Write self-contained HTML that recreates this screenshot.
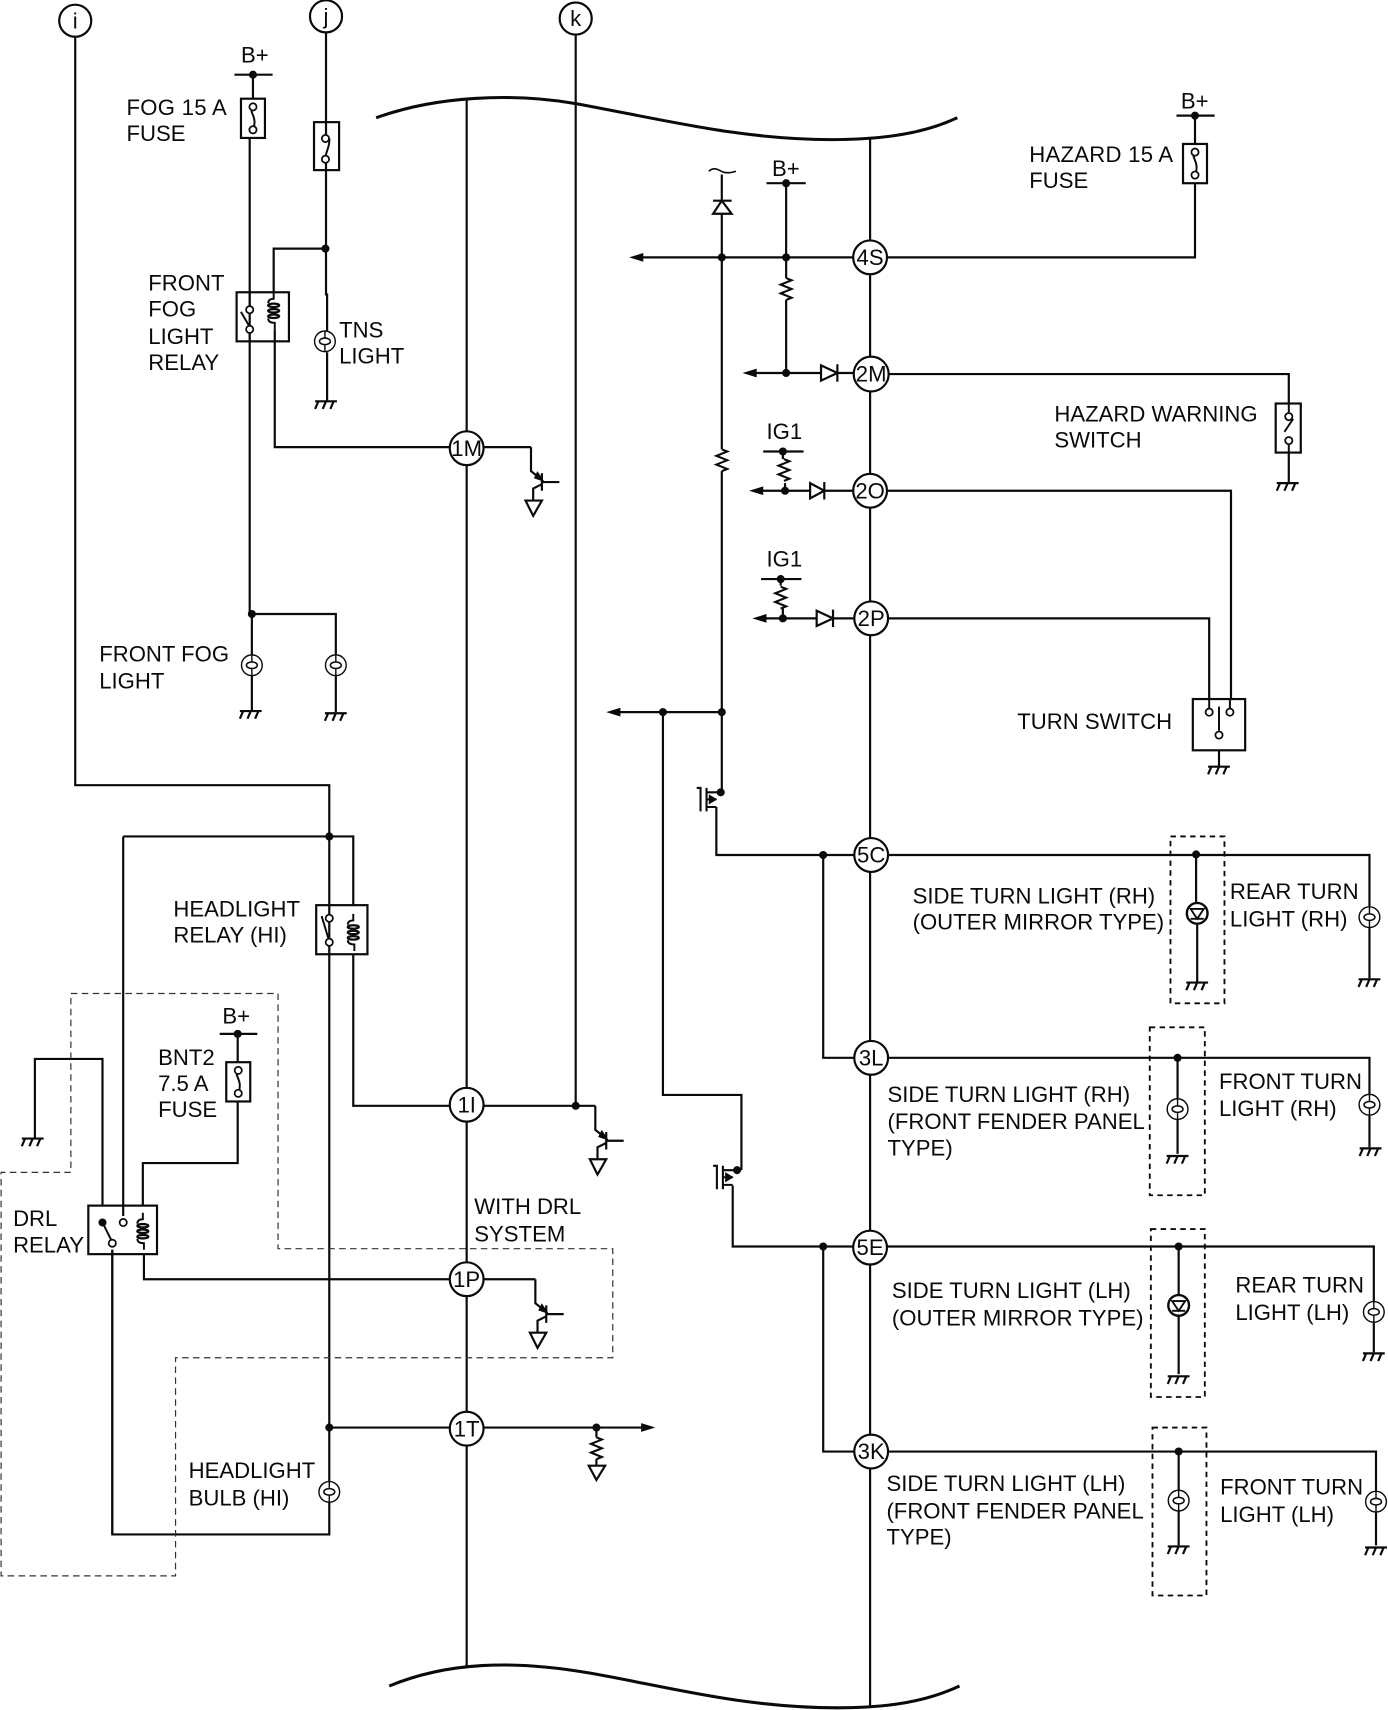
<!DOCTYPE html>
<html><head><meta charset="utf-8"><style>
html,body{margin:0;padding:0;background:#fff;width:1388px;height:1710px;overflow:hidden}
svg{display:block}
text{font-family:"Liberation Sans",sans-serif;font-size:20.3px;fill:#0a0a0a}
</style></head><body>
<svg width="1388" height="1710" viewBox="0 0 1273 1568" preserveAspectRatio="none" xmlns="http://www.w3.org/2000/svg">
<defs>
<g id="gnd" fill="none" stroke="#0a0a0a" stroke-width="2"><path d="M-10 0H10M-7 0L-10 7M0 0L-3 7M7 0L4 7"/></g>
<g id="lamp"><circle r="9.5" fill="#fff" stroke="#0a0a0a" stroke-width="1.3"/><ellipse rx="5" ry="3" fill="none" stroke="#0a0a0a" stroke-width="1.4"/><path d="M0 -9.5V-3M0 3V9.5" stroke="#0a0a0a" stroke-width="1.3" fill="none"/></g>
<g id="led"><circle r="9.5" fill="#fff" stroke="#0a0a0a" stroke-width="2.200"/><path d="M-6 -4H6L0 5ZM-6 5H6" fill="#fff" stroke="#0a0a0a" stroke-width="1.7"/></g>
<g id="fuse"><rect x="-11" y="0" width="22" height="36" fill="#fff" stroke="#0a0a0a" stroke-width="2"/><path d="M0 7C-5 13 5 15 0 29" fill="none" stroke="#0a0a0a" stroke-width="1.8"/><circle cy="7.5" r="3.3" fill="#fff" stroke="#0a0a0a" stroke-width="1.6"/><circle cy="28.5" r="3.3" fill="#fff" stroke="#0a0a0a" stroke-width="1.6"/></g>
<g id="res" fill="none" stroke="#0a0a0a" stroke-width="1.9"><path d="M0 0L5 2L-5 6L5 10L-5 14L5 18L0 20"/></g>
<g id="trans" fill="none" stroke="#0a0a0a" stroke-width="2"><path d="M0 0V22L10 30M10 24V40M10 32H26M10 34L2 38V49"/><path d="M-5 49H10L2 63Z" fill="#fff"/><path d="M10 30L4 28L6 24Z" fill="#0a0a0a"/></g>
<g id="coil" fill="none" stroke="#0a0a0a" stroke-width="1.8"><path d="M0 0V6Q-5 6 -5 10"/><ellipse cx="0" cy="12" rx="5" ry="1.6" stroke-width="2.100"/><ellipse cx="0" cy="17" rx="5" ry="1.6" stroke-width="2.100"/><ellipse cx="0" cy="22" rx="5" ry="1.6" stroke-width="2.100"/><path d="M-5 24Q-5 28 1 28V34"/></g>
<g id="mos" fill="none" stroke="#0a0a0a" stroke-width="1.9"><path d="M-22 -4H-18.500V17.500M-13 -4V17.500M-13 0H0M-13 6.500H-4M-13 13.500H-4"/><path d="M-5 6.500L-10 3.500V9.500Z" fill="#0a0a0a"/></g>
<path id="al" d="M0 0L13 -4V4Z" fill="#0a0a0a"/>
</defs>

<g fill="none" stroke="#0a0a0a" stroke-width="2">
<!-- buses & curves -->
<path d="M428 90V1529M798 127V1566"/>
<path d="M345 108C400 88 470 85 528 95C610 110 680 128 762 128C812 128 848 122 878 108" stroke-width="2.800"/>
<path d="M357 1546C410 1524 470 1522 540 1534C610 1546 680 1566 768 1566C816 1566 850 1560 880 1546" stroke-width="2.800"/>
<!-- i -->
<path d="M69 34V720H302V1407H103V1146"/>
<!-- j -->
<path d="M299 30V228M299 228V270H300V303M300 323V368M299 228H251V268"/>
<!-- fog -->
<path d="M232 68V90M229 127V563M231 563V601M231 620V652M231 563H308V601M308 620V653"/>
<path d="M252 302V410H414"/>
<path d="M443 410H487"/>
<!-- k -->
<path d="M528 32V1014"/>
<!-- headlight -->
<path d="M113 767H324V830M324 875V1014H414M443 1014H546"/>
<path d="M113 767V1115"/>
<path d="M94 1105V971H32V1044"/>
<path d="M218 948V974M218 1010V1066.500H131V1105"/>
<path d="M132 1150V1173H414M443 1173H491"/>
<path d="M103 1146V1407"/>
<path d="M302 1309H414M443 1309H590M547 1309V1318M547 1338V1344"/>
<!-- right -->
<path d="M1096 106V132M1096 168V236H813M783 236H586"/>
<path d="M721 168V255M721 275V342M690 342H753M768 342H783M815 343H1182V370M1182 415V442"/>
<path d="M662 160V412M662 432V726.500M608 653H566M608 653H662M608 653V1004H680V1073"/>
<path d="M718 414V421M720 443V450M696 450H743M756 450H783M813 450H1129V642"/>
<path d="M716 531V537M718 558V567M698 567H749M764 567H783M813 567H1109V641"/>
<path d="M1118 688V703"/>
<path d="M657 740V784H783M672 1087V1143H783"/>
<path d="M755 784V970H783M755 1143V1331H783"/>
<path d="M813 784H1256V831M1256 850V897"/>
<path d="M813 970H1256V1004M1256 1023V1052"/>
<path d="M813 1143H1260V1193M1260 1213V1240"/>
<path d="M813 1331H1262V1367M1262 1387V1417"/>
<path d="M1097 784V827M1098 847V900"/>
<path d="M1080 970V1007M1080 1027V1058"/>
<path d="M1081 1143V1187M1081 1207V1260"/>
<path d="M1081 1331V1366M1081 1386V1417"/>
</g>

<!-- thin dashed region -->
<path d="M65 911H255V1145H562V1245H161V1445H1V1075H65Z" fill="none" stroke="#333" stroke-width="1.1" stroke-dasharray="6 4"/>
<!-- dashed boxes -->
<g fill="none" stroke="#0a0a0a" stroke-width="1.7" stroke-dasharray="5 4">
<rect x="1073.500" y="767" width="49.500" height="153"/>
<rect x="1054.500" y="942" width="50.500" height="154"/>
<rect x="1055.500" y="1127" width="49.500" height="154"/>
<rect x="1057" y="1309" width="49.500" height="154"/>
</g>

<!-- resistors -->
<use href="#res" x="721" y="255"/><use href="#res" x="662" y="412"/><use href="#res" x="719" y="421"/><use href="#res" x="716" y="538"/><use href="#res" x="547" y="1318"/>
<path d="M540 1344H555L547 1357Z" fill="#fff" stroke="#0a0a0a" stroke-width="2"/>

<!-- transistors -->
<use href="#trans" x="487" y="410"/><use href="#trans" x="546" y="1014"/><use href="#trans" x="491" y="1173"/>

<!-- fuses -->
<use href="#fuse" x="232" y="90.500"/><use href="#fuse" x="1096" y="132"/><use href="#fuse" x="218.500" y="974"/>
<rect x="288" y="112" width="23" height="44" fill="#fff" stroke="#0a0a0a" stroke-width="2"/>
<path d="M302 127C303 133 299 139 298.500 144" fill="none" stroke="#0a0a0a" stroke-width="1.8"/>
<path d="M299 112V124M299 149V156" stroke="#0a0a0a" stroke-width="2"/>
<circle cx="298.500" cy="127" r="3.300" fill="#fff" stroke="#0a0a0a" stroke-width="1.600"/><circle cx="298.500" cy="146" r="3.300" fill="#fff" stroke="#0a0a0a" stroke-width="1.600"/>

<!-- bars -->
<g stroke="#0a0a0a" stroke-width="2"><path d="M215 68.500H250M703 168H739M1079 106H1114M700 414H737M698 531H735M201.500 948H236"/></g>
<g fill="#0a0a0a"><circle cx="232" cy="68.500" r="3.700"/><circle cx="721" cy="168" r="3.700"/><circle cx="1096" cy="106" r="3.700"/><circle cx="718" cy="414" r="3.700"/><circle cx="716" cy="531" r="3.700"/><circle cx="218" cy="948" r="3.700"/>
<circle cx="298.500" cy="228" r="3.700"/><circle cx="662" cy="236" r="3.700"/><circle cx="721" cy="236" r="3.700"/><circle cx="721" cy="342" r="3.700"/><circle cx="720" cy="450" r="3.700"/><circle cx="718" cy="567" r="3.700"/><circle cx="231" cy="563" r="3.700"/><circle cx="608" cy="653" r="3.700"/><circle cx="662" cy="653" r="3.700"/><circle cx="661" cy="726.500" r="3.700"/><circle cx="676" cy="1073" r="3.700"/><circle cx="755" cy="784" r="3.700"/><circle cx="755" cy="1143" r="3.700"/><circle cx="302" cy="767" r="3.700"/><circle cx="528" cy="1014" r="3.700"/><circle cx="302" cy="1309" r="3.700"/><circle cx="547" cy="1309" r="3.700"/><circle cx="1097" cy="783.500" r="3.700"/><circle cx="1080" cy="970" r="3.700"/><circle cx="1081" cy="1143" r="3.700"/><circle cx="1081" cy="1331" r="3.700"/></g>

<!-- arrows -->
<use href="#al" x="577" y="236"/><use href="#al" x="681" y="342"/><use href="#al" x="687" y="450"/><use href="#al" x="690" y="567"/><use href="#al" x="556" y="653"/>
<path d="M601 1309L588 1305V1313Z" fill="#0a0a0a"/>

<!-- diodes -->
<g fill="#fff" stroke="#0a0a0a" stroke-width="2">
<path d="M753 335L768 342L753 349Z"/><path d="M768 334V350"/>
<path d="M743 443L756 450L743 457Z"/><path d="M756 442V458"/>
<path d="M749 560L764 567L749 574Z"/><path d="M764 559V575"/>
<path d="M654 196H671L662 184Z"/><path d="M654 184H671"/>
</g>
<path d="M650 157C656 152 660 157 664 158C668 159 672 158 675 157" fill="none" stroke="#0a0a0a" stroke-width="1.500"/>

<!-- relays -->
<g fill="none" stroke="#0a0a0a" stroke-width="2">
<rect x="217" y="268" width="48" height="45"/>
<rect x="290" y="830" width="47" height="45"/>
<rect x="81" y="1105.500" width="63" height="44.500"/>
<rect x="1170" y="370" width="23" height="45"/>
<rect x="1094" y="641" width="48" height="47"/>
</g>
<use href="#coil" x="251" y="268"/><use href="#coil" x="324" y="838"/><use href="#coil" x="131" y="1112"/>
<g fill="none" stroke="#0a0a0a" stroke-width="1.800">
<path d="M221 286L228 298"/><path d="M229 268V281M229 305V313"/>
<path d="M295 840L301 860"/>
<path d="M94 1121L102 1137"/>
<path d="M1178 396L1186 384M1182 370V378M1182 408V415"/>
<path d="M1118 648V670M1109 641V650M1128 641V650"/>
</g>
<g fill="#fff" stroke="#0a0a0a" stroke-width="1.600">
<circle cx="229" cy="284" r="3.300"/><circle cx="229" cy="302" r="3.300"/>
<circle cx="302" cy="842" r="3.300"/><circle cx="302" cy="864" r="3.300"/>
<circle cx="113" cy="1121" r="3.300"/><circle cx="103" cy="1140" r="3.300"/>
<circle cx="1182" cy="382" r="3.300"/><circle cx="1182" cy="404" r="3.300"/>
<circle cx="1109" cy="653" r="3.300"/><circle cx="1128" cy="653" r="3.300"/><circle cx="1118" cy="674" r="3.300"/>
</g>
<circle cx="94" cy="1121" r="3.700" fill="#0a0a0a"/>

<!-- mosfets -->
<use href="#mos" x="661" y="726.500"/><use href="#mos" x="676" y="1073"/>

<!-- lamps -->
<use href="#lamp" x="298" y="313"/><use href="#lamp" x="231" y="610"/><use href="#lamp" x="308" y="610"/><use href="#lamp" x="302" y="1368"/>
<use href="#lamp" x="1256" y="841"/><use href="#lamp" x="1256" y="1013"/><use href="#lamp" x="1260" y="1203"/><use href="#lamp" x="1262" y="1377"/>
<use href="#lamp" x="1080" y="1017"/><use href="#lamp" x="1081" y="1376"/>
<use href="#led" x="1098" y="837.500"/><use href="#led" x="1081" y="1197"/>

<!-- grounds -->
<use href="#gnd" x="299" y="368"/><use href="#gnd" x="230" y="652"/><use href="#gnd" x="308" y="654"/><use href="#gnd" x="1181" y="443"/><use href="#gnd" x="1118" y="703"/>
<use href="#gnd" x="1098" y="901"/><use href="#gnd" x="1256" y="898"/><use href="#gnd" x="1080" y="1060"/><use href="#gnd" x="1257" y="1053"/>
<use href="#gnd" x="1081" y="1262"/><use href="#gnd" x="1260" y="1241"/><use href="#gnd" x="1081" y="1418"/><use href="#gnd" x="1262" y="1419"/><use href="#gnd" x="30" y="1044"/>

<!-- node circles -->
<g fill="#fff" stroke="#0a0a0a" stroke-width="2">
<circle cx="69" cy="19" r="14.700"/><circle cx="299" cy="15" r="14.700"/><circle cx="528" cy="17" r="14.700"/>
<circle cx="428" cy="411" r="15.500"/><circle cx="428" cy="1013" r="15.500"/><circle cx="428" cy="1173" r="15.500"/><circle cx="428" cy="1310" r="15.500"/>
<circle cx="798" cy="236" r="15.500"/><circle cx="799" cy="343" r="16"/><circle cx="798" cy="450" r="15.500"/><circle cx="799" cy="567" r="15.500"/>
<circle cx="799" cy="784" r="15.500"/><circle cx="799" cy="970" r="15.500"/><circle cx="798" cy="1144" r="15.500"/><circle cx="799" cy="1331" r="15.500"/>
</g>
<g text-anchor="middle">
<text x="69" y="26">i</text><text x="299" y="22">j</text><text x="528" y="24">k</text>
<text x="428" y="418">1M</text><text x="428" y="1020">1I</text><text x="428" y="1180">1P</text><text x="428" y="1317">1T</text>
<text x="798" y="243">4S</text><text x="799" y="350">2M</text><text x="798" y="457">2O</text><text x="799" y="574">2P</text>
<text x="799" y="791">5C</text><text x="799" y="977">3L</text><text x="798" y="1151">5E</text><text x="799" y="1338">3K</text>
</g>

<!-- labels -->
<g transform="translate(0,-0.6)">
<text x="221" y="58">B+</text><text x="1083" y="100">B+</text><text x="708" y="162">B+</text><text x="204" y="939">B+</text>
<text x="703" y="403">IG1</text><text x="703" y="520">IG1</text>
<text x="116" y="106" textLength="92">FOG 15 A</text><text x="116" y="130">FUSE</text>
<text x="136" y="267">FRONT</text><text x="136" y="291">FOG</text><text x="136" y="316">LIGHT</text><text x="136" y="340">RELAY</text>
<text x="311" y="310">TNS</text><text x="311" y="334">LIGHT</text>
<text x="91" y="607">FRONT FOG</text><text x="91" y="632">LIGHT</text>
<text x="944" y="149" textLength="132">HAZARD 15 A</text><text x="944" y="173">FUSE</text>
<text x="967" y="387">HAZARD WARNING</text><text x="967" y="411">SWITCH</text>
<text x="933" y="669">TURN SWITCH</text>
<text x="159" y="841">HEADLIGHT</text><text x="159" y="865">RELAY (HI)</text>
<text x="145" y="977">BNT2</text><text x="145" y="1001">7.5 A</text><text x="145" y="1025">FUSE</text>
<text x="12" y="1125">DRL</text><text x="12" y="1149">RELAY</text>
<text x="435" y="1114">WITH DRL</text><text x="435" y="1139">SYSTEM</text>
<text x="173" y="1356">HEADLIGHT</text><text x="173" y="1381">BULB (HI)</text>
<text x="837" y="829">SIDE TURN LIGHT (RH)</text><text x="837" y="853">(OUTER MIRROR TYPE)</text>
<text x="1128" y="825">REAR TURN</text><text x="1128" y="850">LIGHT (RH)</text>
<text x="814" y="1011">SIDE TURN LIGHT (RH)</text><text x="814" y="1036">(FRONT FENDER PANEL</text><text x="814" y="1060">TYPE)</text>
<text x="1118" y="999">FRONT TURN</text><text x="1118" y="1024">LIGHT (RH)</text>
<text x="818" y="1191">SIDE TURN LIGHT (LH)</text><text x="818" y="1216">(OUTER MIRROR TYPE)</text>
<text x="1133" y="1186">REAR TURN</text><text x="1133" y="1211">LIGHT (LH)</text>
<text x="813" y="1368">SIDE TURN LIGHT (LH)</text><text x="813" y="1393">(FRONT FENDER PANEL</text><text x="813" y="1417">TYPE)</text>
<text x="1119" y="1371">FRONT TURN</text><text x="1119" y="1396">LIGHT (LH)</text>
</g>
</svg>
</body></html>
